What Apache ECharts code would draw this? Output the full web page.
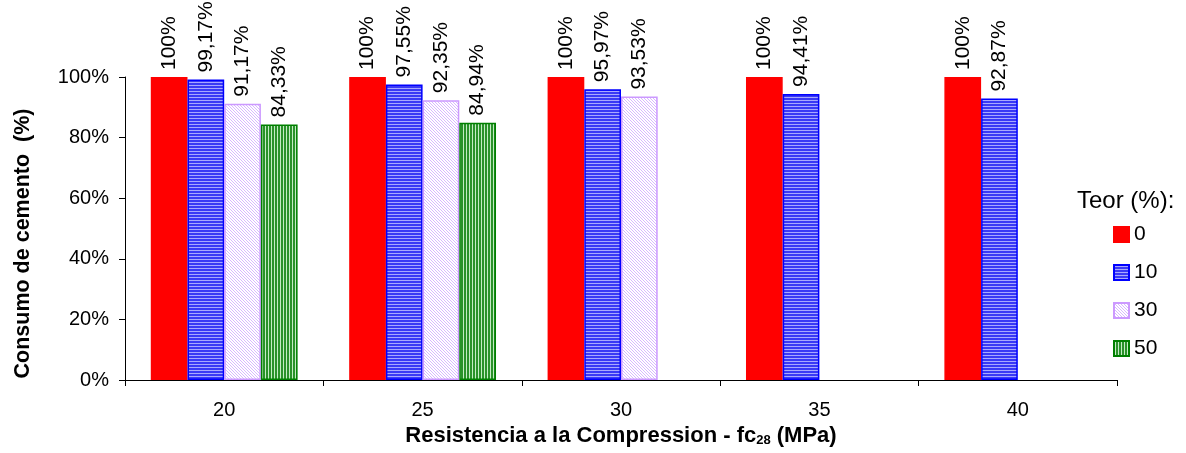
<!DOCTYPE html>
<html><head><meta charset="utf-8">
<script src="https://cdn.jsdelivr.net/npm/echarts@6/dist/echarts.min.js"></script>
<style>html,body{margin:0;padding:0;background:#fff}#c{width:1186px;height:453px}</style>
</head><body><div id="c"></div>
<script>
const categories = ['20', '25', '30', '35', '40'];
const seriesNames = ['0', '10', '30', '50'];
const s0 = [100, 100, 100, 100, 100];
const s10 = [99.17, 97.55, 95.97, 94.41, 92.87];
const s30 = [91.17, 92.35, 93.53, null, null];
const s50 = [84.33, 84.94, null, null, null];
const yTicks = [0, 20, 40, 60, 80, 100];

function pat(w, h, draw) {
  const c = document.createElement('canvas');
  c.width = w; c.height = h;
  const g = c.getContext('2d');
  draw(g);
  return { image: c, repeat: 'repeat' };
}
const bluePat = pat(3, 3, g => { g.fillStyle = '#3a3af5'; g.fillRect(0,0,3,3); g.fillStyle = '#a8a8ff'; g.fillRect(0,1,3,1); });
const pinkPat = pat(3, 3, g => { g.fillStyle = '#ffffff'; g.fillRect(0,0,3,3); g.fillStyle = '#d8b8ff'; g.fillRect(0,0,1,1); g.fillRect(1,1,1,1); g.fillRect(2,2,1,1); });
const greenPat = pat(3, 3, g => { g.fillStyle = '#2a922a'; g.fillRect(0,0,3,3); g.fillStyle = '#c4ecc4'; g.fillRect(1,0,1,3); });

const fills = ['#ff0000', bluePat, pinkPat, greenPat];
const borders = ['#ff0000', '#0000ff', '#cc99ff', '#008000'];
const datas = [s0, s10, s30, s50];

const font = 'Liberation Sans, Arial, sans-serif';
const chart = echarts.init(document.getElementById('c'));
chart.setOption({
  animation: false,
  textStyle: { fontFamily: font },
  grid: { left: 125, right: 69, top: 77, bottom: 73, containLabel: false },
  title: { text: 'Teor (%):', left: 1077, top: 189, padding: 0, textStyle: { fontFamily: font, fontSize: 24, fontWeight: 'normal', color: '#000' } },
  legend: {
    orient: 'vertical', left: 1113, top: 224, padding: 0, itemWidth: 15, itemHeight: 15, itemGap: 17,
    icon: 'rect',
    textStyle: { fontFamily: font, fontSize: 21, color: '#000' },
    data: seriesNames
  },
  xAxis: {
    type: 'category', data: categories,
    axisLine: { lineStyle: { color: '#000' } },
    axisTick: { show: true, length: 6, lineStyle: { color: '#000' } },
    axisLabel: { fontSize: 20, color: '#000', margin: 20, fontFamily: font },
    name: '{a|Resistencia a la Compression - fc}{s|28}{a| (MPa)}',
    nameLocation: 'middle', nameGap: 36,
    nameTextStyle: { rich: { a: { fontSize: 22, fontWeight: 'bold', color: '#000', fontFamily: font }, s: { fontSize: 13, fontWeight: 'bold', color: '#000', fontFamily: font, padding: [10,0,0,0] } } }
  },
  yAxis: {
    type: 'value', min: 0, max: 100, interval: 20,
    axisLine: { show: true, lineStyle: { color: '#000' } },
    axisTick: { show: true, length: 6, lineStyle: { color: '#000' } },
    splitLine: { show: false },
    axisLabel: { fontSize: 20, color: '#000', margin: 16, fontFamily: font, formatter: v => yTicks.includes(v) ? v + '%' : '' },
    name: 'Consumo de cemento  (%)', nameLocation: 'middle', nameGap: 91,
    nameTextStyle: { fontSize: 21.5, fontWeight: 'bold', color: '#000', fontFamily: font, padding: [0, 30, 0, 0] }
  },
  series: datas.map((d, i) => ({
    name: seriesNames[i], type: 'bar', data: d,
    barGap: '0%', barCategoryGap: '26%',
    itemStyle: { color: fills[i], borderColor: borders[i], borderWidth: 1.5 },
    label: {
      show: true, position: 'top', rotate: 90, align: 'left', verticalAlign: 'middle', distance: 7,
      fontSize: 21, color: '#000', fontFamily: font,
      formatter: p => (p.value === 100 ? '100' : p.value.toFixed(2).replace('.', ',')) + '%'
    }
  }))
});
</script></body></html>
